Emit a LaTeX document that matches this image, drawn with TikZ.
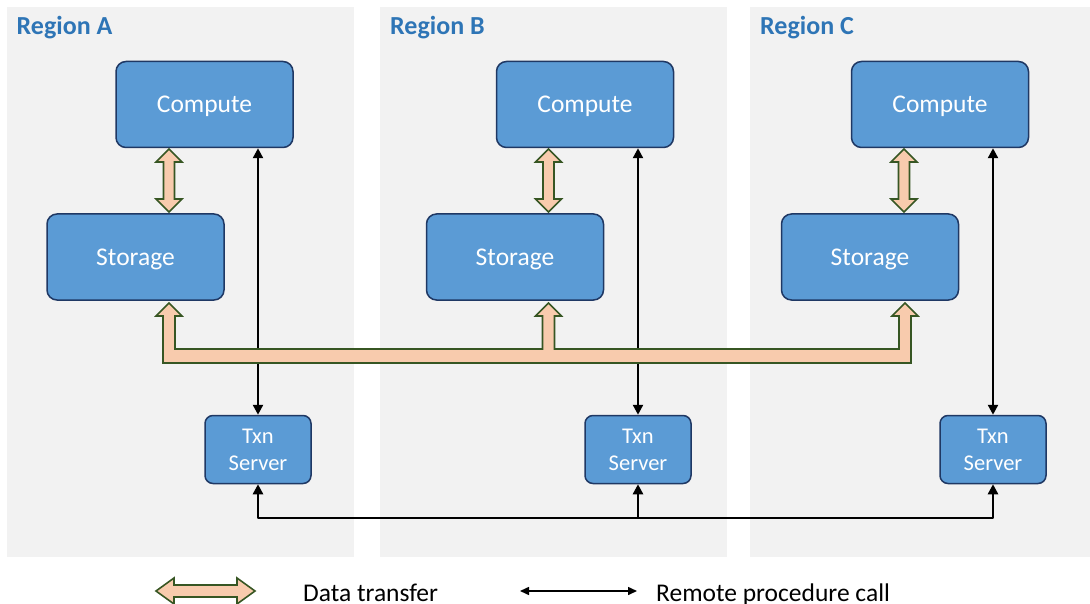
\documentclass[tikz,border=0pt]{standalone}
\usepackage{fontspec}
\setmainfont{Carlito}
\usetikzlibrary{arrows.meta,calc}

\definecolor{panelgray}{HTML}{F2F2F2}
\definecolor{boxblue}{HTML}{5B9BD5}
\definecolor{boxedge}{HTML}{1F3864}
\definecolor{labelblue}{HTML}{2E75B6}
\definecolor{dataorange}{HTML}{F8CBAD}
\definecolor{dataedge}{HTML}{375623}

\tikzset{
  panel/.style={fill=panelgray, draw=none},
  regionlabel/.style={anchor=base west, inner sep=0pt, text=labelblue,
    font=\fontsize{26}{30}\selectfont\bfseries},
  bigbox/.style={draw=boxedge, fill=boxblue, line width=1.5pt, rounded corners=10pt,
    minimum width=177pt, minimum height=86pt, inner sep=0pt, text=white,
    text height=16.5pt, text depth=0pt, font=\fontsize{25.5}{30}\selectfont},
  txnbox/.style={draw=boxedge, fill=boxblue, line width=1.5pt, rounded corners=8pt,
    minimum width=106pt, minimum height=68pt, inner sep=0pt, text=white, align=center,
    font=\fontsize{22.5}{27}\selectfont},
  dataflow/.style={fill=dataorange, draw=dataedge, line width=1.6pt, line join=miter},
  rpc/.style={draw=black, line width=2.4pt, line join=round,
    arrows={-Triangle[length=10pt,width=10pt]}},
  rpcboth/.style={rpc, arrows={Triangle[length=10pt,width=10pt]-Triangle[length=10pt,width=10pt]}},
  legendtext/.style={anchor=base west, inner sep=0pt, font=\fontsize{25.5}{30}\selectfont},
}

% vertical two-headed data arrow: #1 = x, #2 = top tip, #3 = bottom tip
\newcommand{\dataArrowV}[3]{%
  \draw[dataflow] (#1,#2) -- ++(13,13) -- ++(-7.5,0) -- (#1+5.5,#3-13) -- ++(7.5,0)
    -- (#1,#3) -- ++(-13,-13) -- ++(7.5,0) -- (#1-5.5,#2+13) -- ++(-7.5,0) -- cycle;}

\begin{document}
\begin{tikzpicture}[x=1pt, y=-1pt]
\useasboundingbox (0,0) rectangle (1090,604);

% region panels
\fill[panel] (7,7) rectangle (354,557);
\fill[panel] (380,7) rectangle (727,557);
\fill[panel] (750,7) rectangle (1090,557);

\node[regionlabel] (labA) at (16.5,35) {Region A};
\node[regionlabel] (labB) at (390,35) {Region B};
\node[regionlabel] (labC) at (760,35) {Region C};

% compute, storage and transaction servers
\node[bigbox] (cmpA) at (204.5,104.5) {Compute};
\node[bigbox] (cmpB) at (585,104.5) {Compute};
\node[bigbox] (cmpC) at (940,104.5) {Compute};

\node[bigbox] (stoA) at (135.5,257) {Storage};
\node[bigbox] (stoB) at (515,257) {Storage};
\node[bigbox] (stoC) at (870,257) {Storage};

\node[txnbox] (txnA) at (258,449.5) {Txn\\Server};
\node[txnbox] (txnB) at (638,449.5) {Txn\\Server};
\node[txnbox] (txnC) at (993,449.5) {Txn\\Server};

% remote procedure calls: compute <-> txn server
\draw[rpcboth] (txnA.north) -- (txnA.north |- cmpA.south);
\draw[rpcboth] (txnB.north) -- (txnB.north |- cmpB.south);
\draw[rpcboth] (txnC.north) -- (txnC.north |- cmpC.south);

% remote procedure calls between txn servers
\coordinate (rpcline) at (0,518);
\draw[rpcboth] (txnA.south) -- (txnA.south |- rpcline) -- (txnC.south |- rpcline) -- (txnC.south);
\draw[rpc] (txnB.south |- rpcline) -- (txnB.south);

% data transfer: compute <-> storage
\dataArrowV{169}{149}{212}
\dataArrowV{548.5}{149}{212}
\dataArrowV{904}{149}{212}

% data transfer: storage replication bus
\draw[dataflow] (169,303) -- (182,316) -- (175,316) -- (175,349)
  -- (542.5,349) -- (542.5,316) -- (535.5,316) -- (548.5,303) -- (561.5,316) -- (554.5,316)
  -- (554.5,349) -- (899,349) -- (899,316) -- (892,316) -- (905,303) -- (918,316) -- (911,316)
  -- (911,363) -- (163,363) -- (163,316) -- (156,316) -- cycle;

% legend
\coordinate (legDL) at (156,591);
\coordinate (legDR) at (255,591);
\draw[dataflow] (legDL) -- ++(18,-13) -- ++(0,7) -- ($(legDR)+(-18,-6)$) -- ++(0,-7)
  -- (legDR) -- ++(-18,13) -- ++(0,-7) -- ($(legDL)+(18,6)$) -- ++(0,7) -- cycle;
\node[legendtext] (legData) at (303,601) {Data transfer};

\coordinate (legRL) at (520,591);
\coordinate (legRR) at (637,591);
\draw[line width=1.5pt, arrows={Triangle[length=9pt,width=8pt]-Triangle[length=9pt,width=8pt]}]
  (legRL) -- (legRR);
\node[legendtext] (legRPC) at (656,601) {Remote procedure call};
\end{tikzpicture}
\end{document}
